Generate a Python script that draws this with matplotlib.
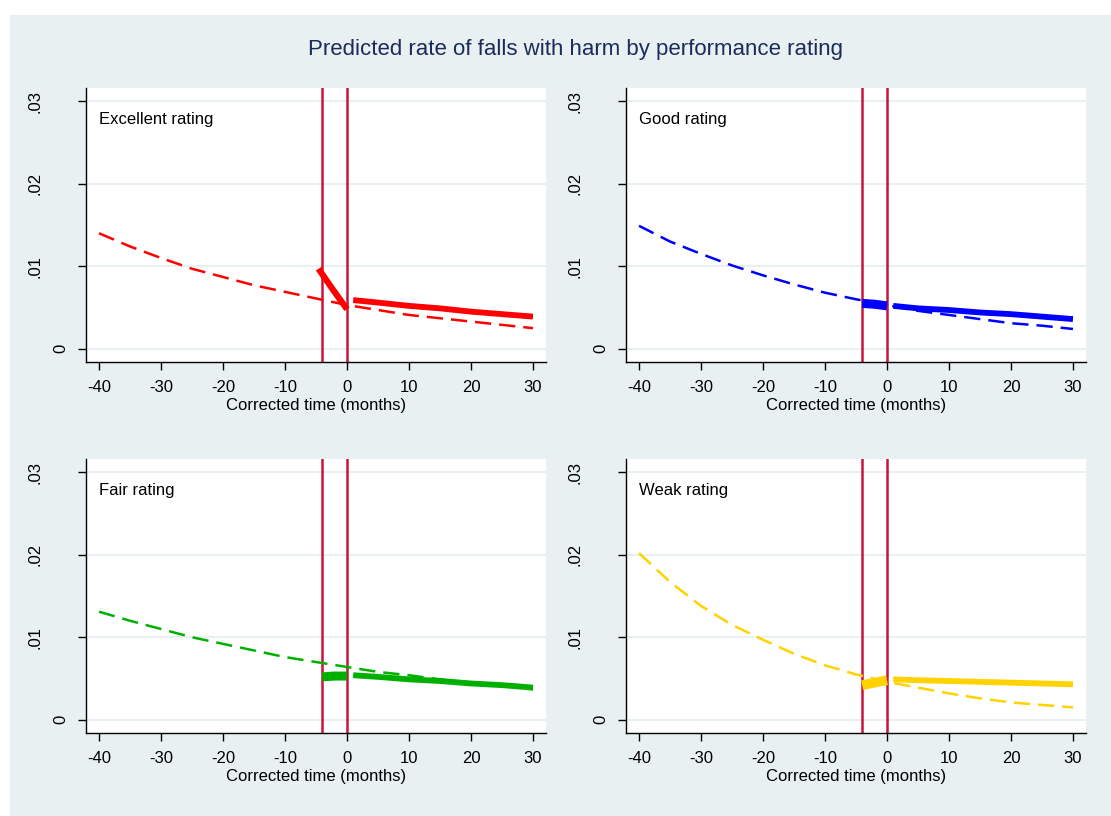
import numpy as np
import matplotlib
matplotlib.use("Agg")
import matplotlib.pyplot as plt
from matplotlib.patches import Rectangle

plt.rcParams['font.family'] = ['Liberation Sans', 'DejaVu Sans']

# months for the extrapolated (dashed) trend and post-rating fit
t_trend = [-40, -35, -30, -25, -20, -15, -10, -5, 0, 5, 10, 15, 20, 25, 30]
t_post = [1, 5, 10, 15, 20, 25, 30]

ratings = ["Excellent rating", "Good rating", "Fair rating", "Weak rating"]
colours = ["#FF0000", "#0000FF", "#00B000", "#FFD200"]

trend_excellent = [.0140, .0124, .0110, .0097, .0087, .0077, .0069, .0061, .0053, .0047, .0041, .0037, .0033, .0029, .0025]
trend_good = [.0149, .0130, .0115, .0101, .0089, .0078, .0068, .0060, .0053, .0046, .0041, .0036, .0031, .0028, .0024]
trend_fair = [.0131, .0120, .0110, .0100, .0092, .0084, .0076, .0070, .0064, .0058, .0054, .0049, .0045, .0041, .0037]
trend_weak = [.0202, .0167, .0138, .0115, .0097, .0080, .0066, .0055, .0046, .0039, .0032, .0026, .0021, .0018, .0015]

post_excellent = [.0059, .0056, .0052, .0049, .0045, .0042, .0039]
post_good = [.0052, .0049, .0047, .0044, .0042, .0039, .0036]
post_fair = [.0054, .0052, .0049, .0047, .0044, .0042, .0039]
post_weak = [.0049, .0048, .0047, .0046, .0045, .0044, .0043]

# transition period between the two red lines
trans_t = [[-4.6, -2.3, 0.0], [-4, -2, 0], [-4, -2, 0], [-4, -2, 0]]
trans_y = [[.0097, .0072, .0048], [.0055, .0054, .0052], [.0052, .0053, .0053], [.0042, .0045, .0048]]
trans_lw = [4.5, 6.5, 6.5, 7.0]

trends = [trend_excellent, trend_good, trend_fair, trend_weak]
posts = [post_excellent, post_good, post_fair, post_weak]

yticks = [0, .01, .02, .03]
ytick_labels = ["0", ".01", ".02", ".03"]
xticks = [-40, -30, -20, -10, 0, 10, 20, 30]
vlines = [-4, 0]

bg = "#E8F0F2"
W, H = 1111, 816
fig = plt.figure(figsize=(W / 100, H / 100), dpi=100)
fig.patch.set_facecolor("white")
fig.patches.append(Rectangle((10 / W, 0), 1 - 10 / W, (H - 15) / H,
                             transform=fig.transFigure, facecolor=bg,
                             edgecolor="none", zorder=-10))

fig.text(576 / W, 1 - 50 / H, "Predicted rate of falls with harm by performance rating",
         ha="center", va="center", fontsize=16, color="#1C2C5A")

# axes boxes in pixels: left, top
boxes = [(86, 88), (626, 88), (86, 459), (626, 459)]
aw, ah = 460, 274

for i in range(4):
    l, t = boxes[i]
    ax = fig.add_axes([l / W, 1 - (t + ah) / H, aw / W, ah / H])
    ax.set_facecolor("white")
    ax.set_xlim(-42.1, 32.1)
    ax.set_ylim(-0.0016, 0.0316)
    for s in ["top", "right"]:
        ax.spines[s].set_visible(False)
    for s in ["left", "bottom"]:
        ax.spines[s].set_linewidth(1.0)
        ax.spines[s].set_color("black")
    ax.set_yticks(yticks)
    ax.set_yticklabels(ytick_labels, rotation=90, va="center")
    ax.set_xticks(xticks)
    ax.set_xticklabels([str(x) for x in xticks])
    ax.tick_params(direction="out", length=6, width=1, labelsize=12)
    ax.tick_params(axis="x", pad=7)
    # rotated labels sit further out the longer the string is
    for tk, lab in zip(ax.yaxis.get_major_ticks(), ytick_labels):
        tk.set_pad(7 if len(lab) == 1 else 25)
    ax.grid(axis="y", color=bg, linewidth=1.5)
    ax.set_axisbelow(True)
    ax.set_xlabel("Corrected time (months)", fontsize=12, labelpad=2)

    for v in vlines:
        ax.axvline(v, color="#C8143C", linewidth=1.8, zorder=2)

    ax.plot(t_trend, trends[i], color=colours[i], linewidth=1.8,
            linestyle=(0, (6.5, 3.2)), zorder=3)
    ax.plot(trans_t[i], trans_y[i], color=colours[i], linewidth=trans_lw[i],
            solid_capstyle="butt", zorder=4)
    ax.plot(t_post, posts[i], color=colours[i], linewidth=4.2,
            solid_capstyle="butt", zorder=4)

    ax.text(0.028, 0.869, ratings[i], transform=ax.transAxes, fontsize=12,
            ha="left", va="baseline", color="black")

fig.savefig("out.png", dpi=100)
